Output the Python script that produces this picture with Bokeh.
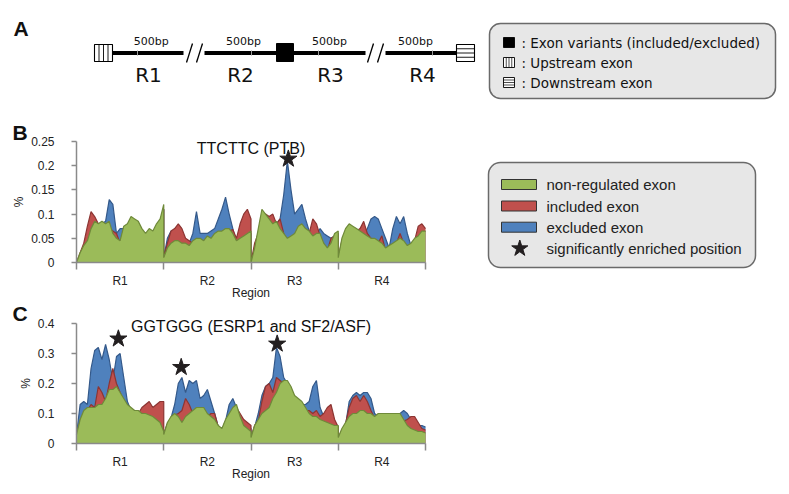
import numpy as np
from bokeh.plotting import figure
from bokeh.layouts import column, row
from bokeh.models import Range1d, FixedTicker
from bokeh.core.properties import value
from bokeh.embed import file_html
from bokeh.resources import INLINE

# ---------------- data ----------------
regions = ["R1", "R2", "R3", "R4"]
region_centers = [12.5, 37.5, 62.5, 87.5]
region_bounds = [0, 25, 50, 75, 100]

b_yticks = [0, 0.05, 0.1, 0.15, 0.2, 0.25]
b_ylabels = ["0", "0.05", "0.1", "0.15", "0.2", "0.25"]
c_yticks = [0, 0.1, 0.2, 0.3, 0.4]
c_ylabels = ["0", "0.1", "0.2", "0.3", "0.4"]

series_names = ["non-regulated exon", "included exon", "excluded exon"]

# Panel B: TTCTTC (PTB), 25 positions per region
b_green = [0.0, 0.02, 0.035, 0.045, 0.07, 0.085, 0.08, 0.085, 0.08, 0.085, 0.06, 0.05, 0.045, 0.075, 0.08, 0.095, 0.09, 0.085, 0.07, 0.06, 0.07, 0.065, 0.08, 0.09, 0.12,
           0.01, 0.03, 0.04, 0.045, 0.045, 0.04, 0.04, 0.035, 0.045, 0.05, 0.05, 0.045, 0.055, 0.05, 0.06, 0.065, 0.065, 0.07, 0.07, 0.06, 0.045, 0.05, 0.055, 0.06, 0.065,
           0.0, 0.03, 0.07, 0.11, 0.1, 0.09, 0.08, 0.085, 0.07, 0.06, 0.05, 0.055, 0.06, 0.075, 0.08, 0.07, 0.065, 0.055, 0.06, 0.06, 0.04, 0.03, 0.04, 0.06, 0.065,
           0.01, 0.05, 0.07, 0.08, 0.075, 0.07, 0.065, 0.06, 0.055, 0.05, 0.05, 0.045, 0.04, 0.03, 0.035, 0.04, 0.045, 0.05, 0.045, 0.035, 0.04, 0.05, 0.055, 0.065, 0.065]
b_red = [0.0, 0.02, 0.04, 0.075, 0.105, 0.095, 0.08, 0.08, 0.075, 0.07, 0.065, 0.06, 0.04, 0.07, 0.075, 0.09, 0.085, 0.08, 0.065, 0.055, 0.065, 0.06, 0.075, 0.085, 0.11,
         0.01, 0.04, 0.065, 0.07, 0.08, 0.07, 0.05, 0.045, 0.04, 0.045, 0.045, 0.04, 0.05, 0.045, 0.055, 0.06, 0.06, 0.065, 0.065, 0.068, 0.05, 0.08, 0.1, 0.11, 0.09,
         0.0, 0.04, 0.06, 0.1, 0.1, 0.095, 0.1, 0.08, 0.09, 0.06, 0.045, 0.05, 0.055, 0.07, 0.075, 0.065, 0.06, 0.09, 0.08, 0.055, 0.035, 0.025, 0.05, 0.055, 0.06,
         0.01, 0.045, 0.065, 0.075, 0.07, 0.065, 0.07, 0.085, 0.06, 0.05, 0.045, 0.04, 0.055, 0.025, 0.03, 0.035, 0.04, 0.06, 0.04, 0.03, 0.035, 0.045, 0.075, 0.08, 0.07]
b_blue = [0.0, 0.015, 0.03, 0.04, 0.06, 0.08, 0.075, 0.08, 0.085, 0.13, 0.12, 0.06, 0.07, 0.07, 0.075, 0.09, 0.085, 0.08, 0.065, 0.055, 0.065, 0.06, 0.075, 0.085, 0.11,
          0.01, 0.05, 0.065, 0.05, 0.05, 0.04, 0.04, 0.04, 0.06, 0.105, 0.06, 0.06, 0.06, 0.065, 0.07, 0.09, 0.11, 0.135, 0.1, 0.07, 0.04, 0.05, 0.055, 0.06, 0.06,
          0.0, 0.02, 0.05, 0.09, 0.09, 0.085, 0.075, 0.08, 0.09, 0.14, 0.21, 0.15, 0.1, 0.11, 0.12, 0.09, 0.065, 0.06, 0.06, 0.07, 0.06, 0.055, 0.05, 0.055, 0.06,
          0.01, 0.04, 0.06, 0.07, 0.065, 0.06, 0.06, 0.06, 0.07, 0.09, 0.095, 0.09, 0.07, 0.05, 0.03, 0.07, 0.095, 0.08, 0.095, 0.06, 0.035, 0.045, 0.05, 0.06, 0.065]
b_star_x = [60.7]
b_star_y = [0.214]

# Panel C: GGTGGG (ESRP1 and SF2/ASF)
c_green = [0.03, 0.08, 0.11, 0.12, 0.12, 0.12, 0.13, 0.13, 0.15, 0.18, 0.18, 0.19, 0.17, 0.15, 0.13, 0.12, 0.11, 0.11, 0.1, 0.1, 0.095, 0.09, 0.08, 0.07, 0.04,
           0.03, 0.07, 0.09, 0.1, 0.09, 0.07, 0.09, 0.1, 0.11, 0.12, 0.12, 0.12, 0.1, 0.09, 0.08, 0.06, 0.05, 0.08, 0.1, 0.12, 0.13, 0.09, 0.06, 0.05, 0.04,
           0.02, 0.06, 0.08, 0.1, 0.11, 0.12, 0.15, 0.17, 0.2, 0.21, 0.21, 0.19, 0.16, 0.15, 0.14, 0.12, 0.1, 0.09, 0.09, 0.08, 0.075, 0.07, 0.065, 0.06, 0.06,
           0.02, 0.05, 0.07, 0.09, 0.1, 0.1, 0.11, 0.11, 0.1, 0.1, 0.09, 0.1, 0.1, 0.1, 0.1, 0.1, 0.1, 0.1, 0.08, 0.06, 0.05, 0.045, 0.04, 0.04, 0.035]
c_red = [0.03, 0.075, 0.1, 0.11, 0.13, 0.12, 0.19, 0.17, 0.14, 0.2, 0.25, 0.2, 0.17, 0.14, 0.12, 0.11, 0.1, 0.1, 0.12, 0.13, 0.14, 0.12, 0.13, 0.14, 0.14,
         0.03, 0.065, 0.085, 0.095, 0.1, 0.11, 0.15, 0.13, 0.1, 0.11, 0.11, 0.11, 0.09, 0.1, 0.1, 0.055, 0.045, 0.075, 0.09, 0.11, 0.12, 0.1, 0.08, 0.07, 0.06,
         0.02, 0.06, 0.075, 0.14, 0.19, 0.2, 0.17, 0.22, 0.21, 0.2, 0.2, 0.18, 0.15, 0.14, 0.13, 0.11, 0.11, 0.1, 0.11, 0.09, 0.1, 0.12, 0.13, 0.08, 0.055,
         0.02, 0.045, 0.065, 0.12, 0.15, 0.16, 0.14, 0.16, 0.14, 0.11, 0.085, 0.09, 0.09, 0.09, 0.09, 0.09, 0.09, 0.09, 0.075, 0.08, 0.09, 0.09, 0.07, 0.05, 0.045]
c_blue = [0.03, 0.13, 0.14, 0.13, 0.25, 0.31, 0.32, 0.28, 0.33, 0.28, 0.21, 0.29, 0.3, 0.22, 0.14, 0.11, 0.1, 0.1, 0.1, 0.1, 0.09, 0.085, 0.075, 0.065, 0.04,
          0.03, 0.065, 0.085, 0.13, 0.2, 0.22, 0.17, 0.21, 0.2, 0.21, 0.15, 0.16, 0.18, 0.14, 0.1, 0.055, 0.045, 0.075, 0.13, 0.15, 0.12, 0.09, 0.07, 0.06, 0.05,
          0.02, 0.055, 0.1, 0.16, 0.19, 0.2, 0.22, 0.32, 0.29, 0.22, 0.2, 0.18, 0.15, 0.14, 0.13, 0.13, 0.14, 0.19, 0.21, 0.12, 0.09, 0.1, 0.1, 0.07, 0.055,
          0.02, 0.04, 0.06, 0.14, 0.16, 0.17, 0.16, 0.17, 0.17, 0.15, 0.1, 0.09, 0.09, 0.09, 0.09, 0.09, 0.09, 0.1, 0.11, 0.1, 0.08, 0.07, 0.06, 0.06, 0.055]
c_star_x = [12.0, 30.0, 57.5]
c_star_y = [0.349, 0.254, 0.332]

# sample positions: 25 per region, each region spans 25 units
pos = np.concatenate([np.linspace(25 * r, 25 * r + 25, 25) for r in range(4)])

GREEN, GREEN_L = "#9bbb59", "#6f8a3a"
RED, RED_L = "#c0504d", "#8c3533"
BLUE, BLUE_L = "#4f81bd", "#34598a"
AXIS = "#8a8a8a"
FONT = "Liberation Sans"

# ---------------- page geometry (pixels) ----------------
W, H = 789, 494
A_H = 118            # height of panel A strip
B_TOP, B_H = 118, 182
C_TOP, C_H = 300, 194
CHART_W = 448
X0_PX, X1_PX = 76, 425           # data x 0 .. 100
PPU_X = (X1_PX - X0_PX) / 100.0
X_START = -X0_PX / PPU_X
X_END = (CHART_W - X0_PX) / PPU_X

# ---------------- panel A (schematic) ----------------
pa = figure(width=W, height=A_H, x_range=Range1d(0, W), y_range=Range1d(A_H, 0),
            x_axis_type=None, y_axis_type=None, output_backend="svg", toolbar_location=None,
            min_border=0, outline_line_color=None)
pa.grid.visible = False
pa.text(x=[13], y=[28], text=["A"], text_font=value(FONT), text_font_style="bold",
        text_font_size=value("21px"), text_baseline="middle", text_color="#111")
pa.segment(x0=[112, 204, 293, 385], y0=[52.5] * 4, x1=[183, 276, 365, 456], y1=[52.5] * 4,
           line_color="black", line_width=4)
pa.segment(x0=[137, 251, 318, 432], y0=[50] * 4, x1=[137, 251, 318, 432], y1=[55] * 4,
           line_color="#9a9a9a", line_width=1)
pa.segment(x0=[186, 196, 367, 377], y0=[62] * 4, x1=[192, 202, 373, 383], y1=[43] * 4,
           line_color="black", line_width=1.3)
pa.quad(left=[94, 456], right=[112, 474], top=[44, 44], bottom=[61, 61],
        fill_color="white", line_color="black", line_width=1.1)
pa.segment(x0=[98.5, 103, 107.5], y0=[44] * 3, x1=[98.5, 103, 107.5], y1=[61] * 3,
           line_color="black", line_width=0.9)
pa.segment(x0=[456] * 3, y0=[48.25, 52.5, 56.75], x1=[474] * 3, y1=[48.25, 52.5, 56.75],
           line_color="black", line_width=0.9)
pa.quad(left=[276], right=[293], top=[43], bottom=[61], fill_color="black", line_color="black")
pa.text(x=[150.7, 243, 329, 415], y=[41] * 4, text=["500bp"] * 4, text_font=value("DejaVu Sans"),
        text_font_size=value("11px"), text_align="center", text_baseline="middle", text_color="#111")
pa.text(x=[148, 240, 330, 422], y=[74] * 4, text=regions, text_font=value("DejaVu Sans"),
        text_font_size=value("20px"), text_align="center", text_baseline="middle", text_color="#111")
pa.quad(left=[489], right=[775], top=[23], bottom=[98], fill_color="#e7e7e7",
        line_color="#6a6a6a", line_width=1.5, border_radius=11)
pa.quad(left=[503, 503, 503], right=[514, 514, 514], top=[37, 57, 77], bottom=[47, 67, 87],
        fill_color=["black", "white", "white"], line_color="black", line_width=0.9)
pa.segment(x0=[505.75, 508.5, 511.25], y0=[57] * 3, x1=[505.75, 508.5, 511.25], y1=[67] * 3,
           line_color="black", line_width=0.7)
pa.segment(x0=[503] * 3, y0=[79.5, 82, 84.5], x1=[514] * 3, y1=[79.5, 82, 84.5],
           line_color="black", line_width=0.7)
pa.text(x=[521] * 3, y=[42, 62, 82],
        text=[": Exon variants (included/excluded)", ": Upstream exon", ": Downstream exon"],
        text_font=value("DejaVu Sans"), text_font_size=value("13.5px"), text_baseline="middle",
        text_color="#111")


# ---------------- panels B, C ----------------
def chart(letter, title, ymax, yticks, ylabels, green, red, blue, sx, sy,
          fig_top, fig_h, y0_px, ytop_px, title_px, letter_px):
    ppu_y = (y0_px - ytop_px) / ymax
    y_start = -(fig_top + fig_h - y0_px) / ppu_y
    y_end = ymax + (ytop_px - fig_top) / ppu_y
    p = figure(width=CHART_W, height=fig_h, x_range=Range1d(X_START, X_END),
               y_range=Range1d(y_start, y_end), output_backend="svg", toolbar_location=None,
               min_border=0)
    p.outline_line_color = None
    p.grid.visible = False
    for vals, fill, line in [(blue, BLUE, BLUE_L), (red, RED, RED_L), (green, GREEN, GREEN_L)]:
        p.varea(x=pos, y1=0, y2=vals, fill_color=fill)
        p.line(x=pos, y=vals, line_color=line, line_width=1.2)
    p.scatter(x=sx, y=sy, marker="star", size=18, fill_color="#231f20", line_color="#231f20")

    xa = p.xaxis[0]
    xa.fixed_location = 0
    xa.bounds = (0, 100)
    xa.ticker = FixedTicker(ticks=region_centers, minor_ticks=region_bounds)
    xa.major_label_overrides = {c: r for c, r in zip(region_centers, regions)}
    xa.major_tick_line_color = None
    xa.major_tick_out = 6
    xa.major_tick_in = 0
    xa.minor_tick_out = 7
    xa.minor_tick_in = 0
    xa.minor_tick_line_color = AXIS
    xa.minor_tick_line_width = 1.5
    xa.major_label_standoff = 4
    xa.axis_label = "Region"
    xa.axis_label_standoff = -5

    ya = p.yaxis[0]
    ya.fixed_location = 0
    ya.bounds = (0, ymax)
    ya.ticker = FixedTicker(ticks=yticks)
    ya.major_label_overrides = {t: l for t, l in zip(yticks, ylabels)}
    ya.major_tick_out = 5
    ya.major_tick_in = 0
    ya.minor_tick_line_color = None
    ya.major_tick_line_color = AXIS
    ya.major_tick_line_width = 1.5
    ya.major_label_standoff = 17
    ya.axis_label = "%"
    ya.axis_label_standoff = 2

    for ax in (xa, ya):
        ax.axis_line_color = AXIS
        ax.axis_line_width = 1.5
        ax.major_label_text_font = FONT
        ax.major_label_text_font_size = "12px"
        ax.major_label_text_color = "#222"
        ax.axis_label_text_font = FONT
        ax.axis_label_text_font_size = "12px"
        ax.axis_label_text_font_style = "normal"
        ax.axis_label_text_color = "#222"

    def dy(px):
        return (y0_px - px) / ppu_y

    p.text(x=[50], y=[dy(title_px)], text=[title], text_font=value(FONT),
           text_font_size=value("16px"), text_align="center", text_baseline="middle",
           text_color="#111")
    p.text(x=[(12 - X0_PX) / PPU_X], y=[dy(letter_px)], text=[letter], text_font=value(FONT),
           text_font_size=value("21px"), text_font_style="bold", text_align="left",
           text_baseline="middle", text_color="#111")
    return p


pb = chart("B", "TTCTTC (PTB)", 0.25, b_yticks, b_ylabels, b_green, b_red, b_blue,
           b_star_x, b_star_y, B_TOP, B_H, 262, 141, 147.5, 131.5)
pc = chart("C", "GGTGGG (ESRP1 and SF2/ASF)", 0.4, c_yticks, c_ylabels, c_green, c_red, c_blue,
           c_star_x, c_star_y, C_TOP, C_H, 443, 323, 325.5, 312.5)

# ---------------- legend for B/C ----------------
pl = figure(width=W - CHART_W, height=B_H, x_range=Range1d(CHART_W, W),
            y_range=Range1d(B_TOP + B_H, B_TOP),
            x_axis_type=None, y_axis_type=None, output_backend="svg", toolbar_location=None,
            min_border=0, outline_line_color=None)
pl.grid.visible = False
pl.quad(left=[488], right=[755], top=[162], bottom=[267], fill_color="#e7e7e7",
        line_color="#6a6a6a", line_width=1.5, border_radius=12)
pl.quad(left=[501] * 3, right=[536] * 3, top=[179, 200.5, 221.7], bottom=[189, 210.5, 231.7],
        fill_color=[GREEN, RED, BLUE], line_color="#333", line_width=1)
pl.scatter(x=[519.3], y=[248], marker="star", size=17, fill_color="#231f20", line_color="#231f20")
pl.text(x=[546] * 4, y=[184, 205.5, 226.7, 248],
        text=series_names + ["significantly enriched position"],
        text_font=value(FONT), text_font_size=value("15px"), text_baseline="middle", text_color="#222")

layout = column(pa, row(pb, pl), pc)
open("out.html", "w").write(file_html(layout, INLINE))
